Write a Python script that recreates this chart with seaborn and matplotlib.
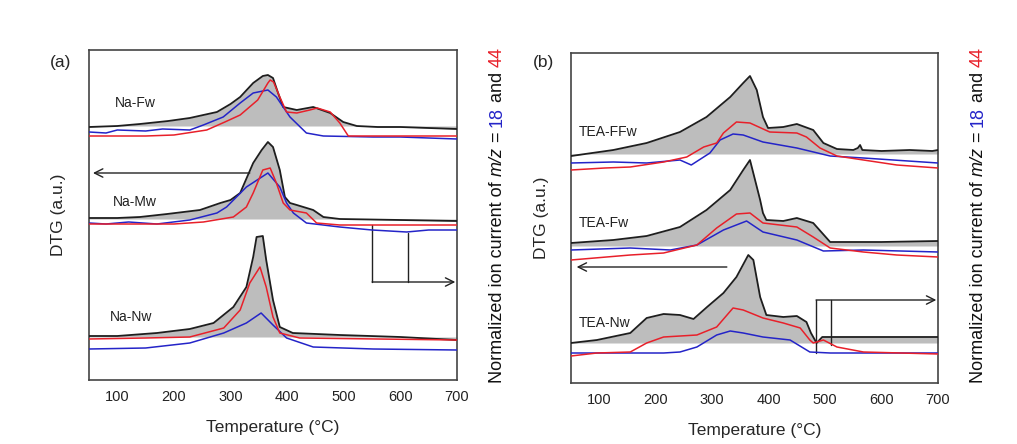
import matplotlib
matplotlib.use("Agg")
import matplotlib.pyplot as plt
import seaborn as sns

# ---------------- data (a.u., stacked offsets already included) ----------------
# Panel (a)
na_fw_dtg_T = [50, 100, 140, 190, 228, 276, 300, 317, 340, 357, 366, 375, 384, 393, 417, 446, 476, 499, 523, 560, 600, 650, 700]
na_fw_dtg = [253, 254, 256, 259, 262, 268, 276, 283, 297, 304, 305, 302, 287, 273, 270, 273, 267, 258, 254, 253, 253, 252, 251]
na_fw_44_T = [50, 150, 200, 258, 290, 317, 348, 366, 370, 376, 387, 399, 417, 440, 453, 476, 493, 508, 550, 700]
na_fw_44 = [244, 244, 245, 250, 258, 265, 280, 297, 300, 298, 283, 268, 267, 270, 272, 268, 257, 244, 244, 244]
na_fw_18_T = [50, 80, 100, 150, 180, 228, 252, 287, 317, 340, 366, 381, 405, 434, 464, 552, 600, 650, 700]
na_fw_18 = [248, 247, 250, 249, 251, 250, 255, 263, 277, 287, 290, 283, 263, 247, 244, 243, 243, 242, 241]
na_fw_base = 254

na_mw_dtg_T = [50, 100, 140, 188, 246, 282, 300, 317, 340, 355, 366, 375, 387, 396, 405, 417, 446, 464, 493, 600, 700]
na_mw_dtg = [162, 162, 163, 166, 170, 177, 180, 187, 217, 230, 238, 233, 210, 183, 177, 175, 170, 163, 161, 160, 159]
na_mw_44_T = [50, 150, 200, 252, 305, 328, 340, 357, 370, 381, 393, 405, 434, 452, 493, 700]
na_mw_44 = [156, 156, 156, 158, 163, 173, 187, 210, 212, 197, 177, 170, 167, 157, 155, 155]
na_mw_18_T = [50, 80, 120, 170, 228, 276, 293, 328, 366, 387, 399, 411, 434, 493, 550, 611, 650, 700]
na_mw_18 = [157, 156, 158, 156, 160, 167, 173, 193, 207, 193, 177, 167, 157, 153, 150, 148, 150, 150]
na_mw_base = 161

na_nw_dtg_T = [50, 100, 170, 228, 270, 305, 328, 340, 346, 357, 363, 375, 387, 410, 493, 600, 700]
na_nw_dtg = [44, 44, 47, 51, 57, 73, 93, 123, 143, 144, 120, 80, 53, 47, 45, 43, 40]
na_nw_44_T = [50, 150, 228, 288, 317, 334, 352, 363, 375, 387, 422, 700]
na_nw_44 = [41, 42, 43, 52, 70, 97, 113, 93, 63, 47, 42, 40]
na_nw_18_T = [50, 150, 228, 288, 328, 354, 375, 399, 446, 552, 700]
na_nw_18 = [31, 32, 37, 47, 57, 67, 55, 42, 33, 31, 30]
na_nw_base = 43

# Panel (b)
tea_ffw_dtg_T = [50, 125, 184, 243, 290, 332, 355, 367, 379, 390, 399, 426, 450, 479, 497, 521, 550, 558, 562, 566, 600, 650, 690, 700]
tea_ffw_dtg = [227, 233, 240, 251, 266, 286, 300, 307, 293, 266, 255, 256, 259, 253, 240, 234, 233, 235, 238, 233, 232, 233, 232, 233]
tea_ffw_44_T = [50, 110, 155, 214, 255, 285, 308, 320, 343, 367, 402, 450, 467, 491, 521, 568, 627, 700]
tea_ffw_44 = [213, 215, 216, 221, 226, 236, 240, 250, 261, 260, 251, 250, 246, 235, 227, 223, 218, 215]
tea_ffw_18_T = [50, 125, 184, 243, 263, 296, 314, 337, 355, 390, 450, 509, 568, 700]
tea_ffw_18 = [220, 221, 220, 223, 218, 230, 243, 249, 248, 241, 235, 227, 225, 220]
tea_ffw_base = 229

tea_fw_dtg_T = [50, 125, 184, 243, 290, 332, 355, 367, 385, 390, 396, 426, 450, 479, 509, 600, 700]
tea_fw_dtg = [140, 143, 147, 156, 173, 193, 213, 223, 183, 170, 163, 162, 165, 160, 141, 141, 142]
tea_fw_44_T = [50, 155, 214, 273, 308, 343, 367, 390, 450, 479, 509, 568, 627, 700]
tea_fw_44 = [123, 128, 130, 138, 155, 169, 170, 160, 156, 146, 135, 131, 128, 126]
tea_fw_18_T = [50, 155, 226, 273, 320, 361, 390, 450, 497, 568, 700]
tea_fw_18 = [133, 135, 133, 138, 153, 162, 151, 143, 132, 133, 131]
tea_fw_base = 137

tea_nw_dtg_T = [50, 96, 155, 184, 214, 243, 267, 291, 320, 343, 364, 373, 385, 396, 426, 450, 467, 475, 485, 495, 600, 700]
tea_nw_dtg = [40, 43, 50, 65, 69, 68, 64, 76, 90, 106, 128, 123, 86, 68, 66, 67, 61, 50, 40, 46, 46, 46]
tea_nw_44_T = [50, 96, 155, 184, 214, 273, 308, 337, 355, 390, 426, 456, 473, 479, 497, 521, 568, 700]
tea_nw_44 = [27, 30, 31, 40, 46, 48, 56, 75, 73, 65, 60, 55, 43, 40, 43, 36, 31, 29]
tea_nw_18_T = [50, 214, 243, 273, 308, 332, 355, 390, 438, 473, 509, 700]
tea_nw_18 = [30, 30, 31, 36, 48, 52, 50, 46, 43, 31, 30, 30]
tea_nw_base = 40

names_a = ["Na-Fw", "Na-Mw", "Na-Nw"]
names_b = ["TEA-FFw", "TEA-Fw", "TEA-Nw"]
xticks = [100, 200, 300, 400, 500, 600, 700]

# ---------------- style ----------------
sns.set_style("white")
plt.rcParams['font.family'] = ['Liberation Sans', 'DejaVu Sans']

W, H = 1017, 444
fig = plt.figure(figsize=(W / 100, H / 100), dpi=100)
axa = fig.add_axes([89 / W, 64 / H, 368 / W, 330 / H])
axb = fig.add_axes([571 / W, 61 / H, 367 / W, 330 / H])

GREY = "#bdbdbd"
BLACK = "#1e1e1e"
RED = "#e8202a"
BLUE = "#2424c8"

panel_a = [
    (na_fw_dtg_T, na_fw_dtg, na_fw_44_T, na_fw_44, na_fw_18_T, na_fw_18, na_fw_base),
    (na_mw_dtg_T, na_mw_dtg, na_mw_44_T, na_mw_44, na_mw_18_T, na_mw_18, na_mw_base),
    (na_nw_dtg_T, na_nw_dtg, na_nw_44_T, na_nw_44, na_nw_18_T, na_nw_18, na_nw_base),
]
panel_b = [
    (tea_ffw_dtg_T, tea_ffw_dtg, tea_ffw_44_T, tea_ffw_44, tea_ffw_18_T, tea_ffw_18, tea_ffw_base),
    (tea_fw_dtg_T, tea_fw_dtg, tea_fw_44_T, tea_fw_44, tea_fw_18_T, tea_fw_18, tea_fw_base),
    (tea_nw_dtg_T, tea_nw_dtg, tea_nw_44_T, tea_nw_44, tea_nw_18_T, tea_nw_18, tea_nw_base),
]


def draw_panel(ax, panel):
    for (tT, d, t44, v44, t18, v18, base) in panel:
        ax.fill_between(tT, d, base, color=GREY, lw=0, zorder=1)
        sns.lineplot(x=tT, y=d, ax=ax, color=BLACK, lw=1.3, sort=False, estimator=None, zorder=3)
        sns.lineplot(x=t18, y=v18, ax=ax, color=BLUE, lw=1.1, sort=False, estimator=None, zorder=4)
        sns.lineplot(x=t44, y=v44, ax=ax, color=RED, lw=1.1, sort=False, estimator=None, zorder=5)
    ax.set_xlim(50, 700)
    ax.set_ylim(0, 330)
    ax.set_xticks(xticks)
    ax.set_xticklabels([str(t) for t in xticks])
    ax.set_yticks([])
    ax.tick_params(axis='x', direction='in', length=5, width=1, pad=7, labelsize=10.5, colors="#222222")
    for s in ax.spines.values():
        s.set_color("#444444")
        s.set_linewidth(1.2)
    ax.set_xlabel("Temperature (°C)", fontsize=12.5)
    ax.set_ylabel("DTG (a.u.)", fontsize=12.5)


draw_panel(axa, panel_a)
draw_panel(axb, panel_b)

axa.xaxis.set_label_coords(0.5, -0.12)
axb.xaxis.set_label_coords(0.5, -0.12)
axa.yaxis.set_label_coords(-0.063, 0.5)
axb.yaxis.set_label_coords(-0.060, 0.5)

# sample labels
for name, (x, y) in zip(names_a, [(96, 277), (92, 178), (87, 63)]):
    axa.text(x, y, name, fontsize=10, ha='left', va='center', color="#222222")
for name, (x, y) in zip(names_b, [(64, 251), (64, 160), (64, 60)]):
    axb.text(x, y, name, fontsize=10, ha='left', va='center', color="#222222")

# arrows
arw = dict(arrowstyle="->", color="#222222", lw=1.0, mutation_scale=15, shrinkA=0, shrinkB=0)
axa.annotate("", xy=(57, 207), xytext=(334, 207), arrowprops=arw)
axa.plot([550, 550], [155, 98], color="#222222", lw=1.0)
axa.plot([614, 614], [147, 98], color="#222222", lw=1.0)
axa.annotate("", xy=(697, 98), xytext=(550, 98), arrowprops=arw)

axb.annotate("", xy=(60, 116), xytext=(326, 116), arrowprops=arw)
axb.plot([484, 484], [83, 30], color="#222222", lw=1.0)
axb.plot([510, 510], [83, 38], color="#222222", lw=1.0)
axb.annotate("", xy=(697, 83), xytext=(484, 83), arrowprops=arw)

# panel letters
fig.text(61 / W, 1 - 62 / H, "(a)", fontsize=12.5, ha='center', va='center')
fig.text(543 / W, 1 - 62 / H, "(b)", fontsize=12.5, ha='center', va='center')

# multi-coloured rotated label
parts = [("Normalized ion current of ", "#111111", "normal"),
         ("m/z", "#111111", "italic"),
         (" = ", "#111111", "normal"),
         ("18", BLUE, "normal"),
         (" and ", "#111111", "normal"),
         ("44", RED, "normal")]


def colored_vlabel(x_px, y_px_bottom, size=13):
    r = fig.canvas.get_renderer()
    y = y_px_bottom
    for s, c, st in parts:
        fig.text(x_px / W, y / H, s, rotation=90, rotation_mode='anchor', ha='left',
                 va='baseline', color=c, style=st, fontsize=size)
        t1 = fig.text(0, 0, s + "|", fontsize=size, style=st)
        t2 = fig.text(0, 0, "|", fontsize=size, style=st)
        w = t1.get_window_extent(r).width - t2.get_window_extent(r).width
        t1.remove()
        t2.remove()
        y += w


colored_vlabel(502, H - 383)
colored_vlabel(983, H - 383)

fig.savefig("out.png", dpi=100)
